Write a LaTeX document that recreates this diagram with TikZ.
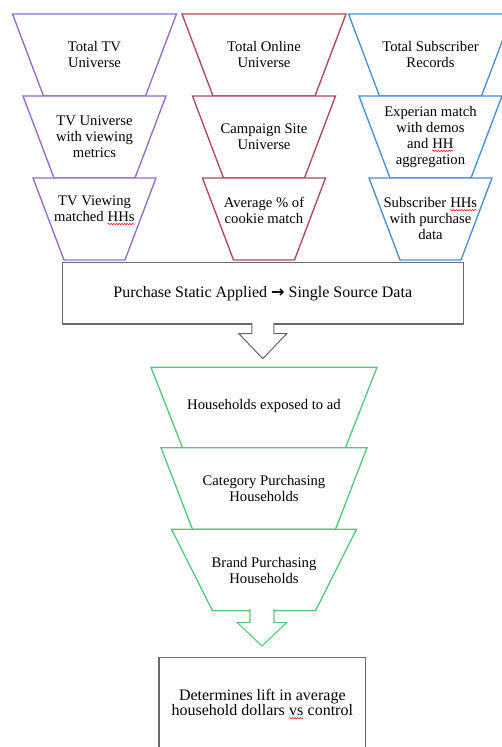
\documentclass[tikz,border=0pt]{standalone}
\usepackage{fontspec}
\setmainfont{Liberation Serif}
\newfontfamily\arrowfont{DejaVu Sans}
\usetikzlibrary{decorations.pathmorphing}

\definecolor{tvpurple}{RGB}{150,105,200}
\definecolor{webred}{RGB}{172,72,84}
\definecolor{subblue}{RGB}{72,142,212}
\definecolor{hhgreen}{RGB}{84,200,124}
\definecolor{boxgray}{RGB}{105,105,105}

% red squiggle of the spell checker
\newcommand{\spellmark}[1]{\tikz[baseline=(wavy.base)]{\node[inner sep=0pt,outer sep=0pt,minimum size=0pt,draw=none,fill=none] (wavy) {#1};
  \draw[red,line width=0.4pt,decorate,decoration={snake,amplitude=0.5pt,segment length=2pt}] ([yshift=-2pt]wavy.base west) -- ([yshift=-2pt]wavy.base east);}}

\begin{document}
\begin{tikzpicture}[x=0.75pt,y=-0.75pt,
	layer/.style={line width=1pt,fill=white},
	funneltext/.style={align=center,inner sep=0pt,font=\fontsize{11}{12}\selectfont},
	boxnode/.style={draw=boxgray,line width=1pt,fill=white,align=center,inner sep=0pt,font=\fontsize{12}{11.25}\selectfont}]
	
	\useasboundingbox (0,0) rectangle (502,747);
	\clip (0,0) rectangle (502,747);
	
	% Draw the three source funnels
	\foreach \cx/\col in {94.5/tvpurple, 264/webred, 430.5/subblue}{
		\foreach \ytop/\hw in {14/82, 96/71.5, 178/61.5}
			\draw[layer,draw=\col] (\cx-\hw,\ytop) -- (\cx+\hw,\ytop) -- (\cx+\hw-31,\ytop+82) -- (\cx-\hw+31,\ytop+82) -- cycle;
	}
	
	% TV funnel
	\node[funneltext] (tvtop) at (94.5,54.7) {Total TV\\Universe};
	\node[funneltext] (tvmid) at (94.5,137) {TV Universe\\with viewing\\metrics};
	\node[funneltext] (tvlow) at (94.5,210.3) {TV Viewing\\matched \spellmark{HHs}};
	
	% Online funnel
	\node[funneltext] (webtop) at (264,54.7) {Total Online\\Universe};
	\node[funneltext] (webmid) at (264,136.3) {Campaign Site\\Universe};
	\node[funneltext] (weblow) at (264,210.3) {Average \% of\\cookie match};
	
	% Subscriber funnel
	\node[funneltext] (subtop) at (430.5,54.7) {Total Subscriber\\Records};
	\node[funneltext] (submid) at (430.5,136.7) {Experian match\\with demos\\and \spellmark{HH}\\aggregation};
	\node[funneltext] (sublow) at (430.5,218.5) {Subscriber \spellmark{HHs}\\with purchase\\data};
	
	% Single source box
	\node[boxnode,minimum width=300.8pt,minimum height=46.3pt] (static) at (262.8,293.2)
		{Purchase Static Applied {\arrowfont\bfseries →} Single Source Data};
	
	% Block arrow down to the exposure funnel
	\filldraw[boxgray,fill=white,line width=0.8pt] ([yshift=1.2pt]static.south) ++(-11,0) -- ++(0,10.5) -- ++(-13,0)
		-- ++(24,25) -- ++(24,-25) -- ++(-13,0) -- ++(0,-10.5);
	
	% Draw the exposure funnel
	\foreach \ytop/\ybot/\hw/\dx in {367.3/447.7/113/31.5, 447.7/529.3/103/31.5, 529.3/610.7/92.5/41}
		\draw[layer,draw=hhgreen] (264-\hw,\ytop) -- (264+\hw,\ytop) -- (264+\hw-\dx,\ybot) -- (264-\hw+\dx,\ybot) -- cycle;
	
	\node[funneltext] (exposed) at (264,406) {Households exposed to ad};
	\node[funneltext] (category) at (264,488.7) {Category Purchasing\\Households};
	\node[funneltext] (brand) at (264,570) {Brand Purchasing\\Households};
	\coordinate (funnelend) at (262,610.7);
	
	% Lift box
	\node[boxnode,minimum width=155pt,minimum height=70.5pt] (lift) at (262.3,704.2)
		{Determines lift in average\\household dollars \spellmark{vs} control};
	
	% Block arrow down to the lift box
	\filldraw[hhgreen,fill=white,line width=0.8pt] (funnelend) ++(-12,-1.5) -- ++(0,13.1) -- ++(-13,0)
		-- ++(25,23.7) -- ++(25,-23.7) -- ++(-13,0) -- ++(0,-13.1);
	
\end{tikzpicture}
\end{document}
